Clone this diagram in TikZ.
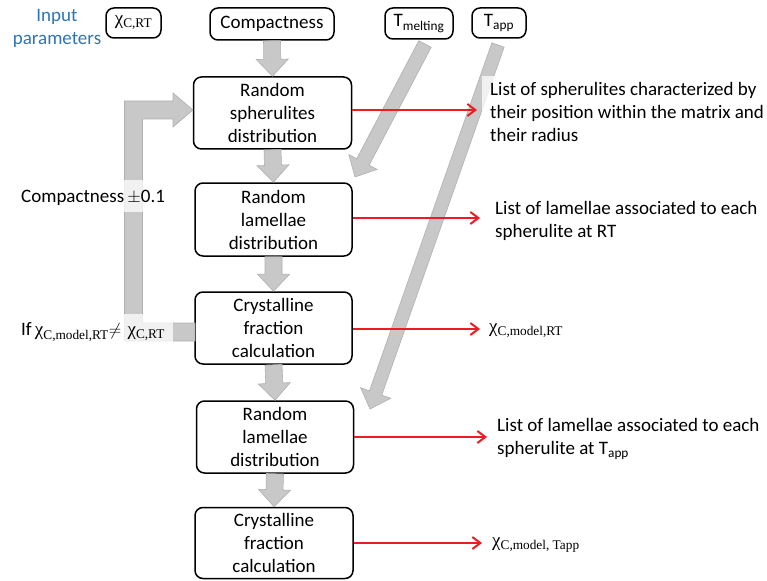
\documentclass[tikz,border=0pt]{standalone}
\usepackage{fontspec}
\setmainfont{Carlito}
\newfontfamily\grk{Liberation Serif}
\usetikzlibrary{calc,arrows.meta}
\definecolor{garr}{RGB}{200,200,200}
\definecolor{garrd}{RGB}{176,176,176}
\definecolor{inblue}{RGB}{46,117,182}
\definecolor{redarr}{RGB}{237,28,36}
\newcommand\chis[1]{{\grk χ\textsubscript{#1}}}
\newcommand\garrow[5]{%
  \coordinate (gahb) at ($(#2)!#5!(#1)$);
  \draw[gblock] ($(#1)!#3!90:(#2)$) -- ($(gahb)!#3!90:(#2)$) -- ($(gahb)!#4!90:(#2)$) -- (#2)
     -- ($(gahb)!#4!-90:(#2)$) -- ($(gahb)!#3!-90:(#2)$) -- ($(#1)!#3!-90:(#2)$) -- cycle;}
\begin{document}
\begin{tikzpicture}[x=1pt,y=-1pt,font={\fontsize{19}{23}\selectfont},
  box/.style={draw, line width=1.5pt, rounded corners=8pt, align=center, inner sep=0pt},
  gblock/.style={fill=garr, draw=garrd, line width=0.6pt, line join=miter},
  redline/.style={draw=redarr, line width=2pt, -{Straight Barb[length=8pt,width=12pt]}},
  lbl/.style={inner sep=0pt, align=left, anchor=west},
  veil/.style={fill=white, fill opacity=0.75, text opacity=1}]
\useasboundingbox (0,0) rectangle (767,580);

% boxes
\node[box, minimum width=55pt, minimum height=30pt] (chi) at (133.5,23) {\chis{C,RT}};
\node[box, minimum width=124pt, minimum height=32pt] (comp) at (272,24) {Compactness};
\node[box, minimum width=68pt, minimum height=31pt] (tm) at (419,23.5) {T\textsubscript{melting}};
\node[box, minimum width=54pt, minimum height=30pt] (ta) at (499,23) {T\textsubscript{app}};
\node[box, minimum width=158pt, minimum height=72pt] (rsd) at (272.5,113) {Random\\spherulites\\distribution};
\node[box, minimum width=157pt, minimum height=73pt] (rld1) at (273.5,219.5) {Random\\lamellae\\distribution};
\node[box, minimum width=157pt, minimum height=72pt] (cfc1) at (273.5,328) {Crystalline\\fraction\\calculation};
\node[box, minimum width=157pt, minimum height=72pt] (rld2) at (275,437) {Random\\lamellae\\distribution};
\node[box, minimum width=158pt, minimum height=71pt] (cfc2) at (274,543) {Crystalline\\fraction\\calculation};

\node[text=inblue, align=center, inner sep=0pt] (inp) at (57,28) {Input\\parameters};

% gray block arrows
\garrow{comp.south}{rsd.north}{8.5pt}{16pt}{17pt}
\garrow{rsd.south}{rld1.north}{8.5pt}{16pt}{17pt}
\garrow{rld1.south}{cfc1.north}{8.5pt}{16pt}{17pt}
\garrow{cfc1.south}{rld2.north}{8.5pt}{16pt}{17pt}
\garrow{rld2.south}{cfc2.north}{8.5pt}{16pt}{17pt}
\coordinate (tm0) at (425,44);
\coordinate (tm1) at (355,177);
\garrow{tm0}{tm1}{7pt}{16pt}{17pt}
\coordinate (ta0) at (498,45);
\coordinate (ta1) at (370,409);
\garrow{ta0}{ta1}{6.5pt}{16pt}{17pt}
% feedback loop
\draw[gblock] (195,341) -- (124.5,341) -- (124.5,101) -- (173,101) -- (173,93)
  -- (193,110) -- (173,127) -- (173,119) -- (142.5,119) -- (142.5,323) -- (195,323) -- cycle;

% red arrows
\coordinate (e1) at (477,110);
\coordinate (e2) at (480,218);
\coordinate (e3) at (480,329);
\coordinate (e4) at (487,437);
\coordinate (e5) at (482,543);
\draw[redline] (rsd.east |- e1) -- (e1);
\draw[redline] (rld1.east |- e2) -- (e2);
\draw[redline] (cfc1.east |- e3) -- (e3);
\draw[redline] (rld2.east |- e4) -- (e4);
\draw[redline] (cfc2.east |- e5) -- (e5);

% labels
\node[lbl, veil, inner xsep=8pt, inner ysep=6pt] (t1) at (482,111.5)
  {List of spherulites characterized by\\their position within the matrix and\\their radius};
\node[lbl] (t2) at (495,220.5) {List of lamellae associated to each\\spherulite at RT};
\node[lbl] (t3) at (489,331) {\chis{C,model,RT}};
\node[lbl] (t4) at (497,439) {List of lamellae associated to each\\spherulite at T\textsubscript{app}};
\node[lbl] (t5) at (492,545) {\chis{C,model, Tapp}};

\node[lbl, veil, inner xsep=2pt, minimum height=32pt] (cpm) at (19,196)
  {\raisebox{-2pt}[\height][\depth]{Compactness\,$\pm$0.1}};
\node[lbl, veil, inner xsep=2pt, minimum height=29pt, text width=150pt] (ifl) at (19,328)
  {\raisebox{-4pt}[\height][\depth]{If\,\chis{C,model,RT}$\neq$ \chis{C,RT}}};
\end{tikzpicture}
\end{document}
